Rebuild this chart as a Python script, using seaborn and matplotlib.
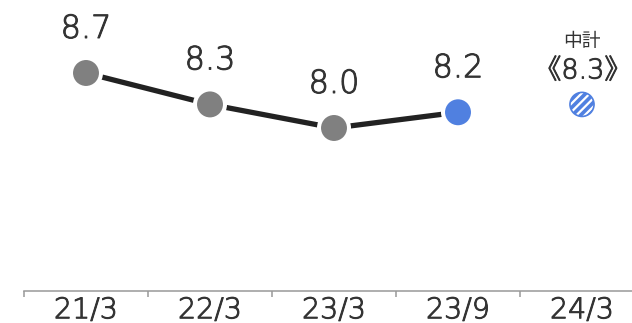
import matplotlib
matplotlib.use("Agg")
import matplotlib.pyplot as plt
import matplotlib.patheffects as pe
import seaborn as sns
import pandas as pd

# Data
periods = ["21/3", "22/3", "23/3", "23/9", "24/3"]
actual_values = [8.7, 8.3, 8.0, 8.2]
plan_value = 8.3
plan_label = "中計"

GRAY = "#808080"
BLUE = "#5080E0"
LINE = "#222222"
TEXT = "#333333"

sns.set_style("white")
plt.rcParams["font.family"] = ["DejaVu Sans", "Noto Sans CJK JP"]
plt.rcParams["hatch.linewidth"] = 1.6

# light face, thickened slightly with a thin stroke of the same colour
thicken = [pe.withStroke(linewidth=0.7, foreground=TEXT)]

df = pd.DataFrame({"pos": range(len(actual_values)),
                   "value": actual_values,
                   "kind": ["past"] * (len(actual_values) - 1) + ["latest"]})

fig = plt.figure(figsize=(6.32, 3.23), dpi=100)
ax = fig.add_axes([24 / 632, 0.1, 620 / 632, 0.9])

# Connecting line
sns.lineplot(data=df, x="pos", y="value", color=LINE, linewidth=3.8, ax=ax,
             zorder=2, legend=False)
# Markers with a white ring so the line stops short of each dot
sns.scatterplot(data=df, x="pos", y="value", hue="kind",
                palette={"past": GRAY, "latest": BLUE}, s=466,
                edgecolor="white", linewidth=2.9, ax=ax, zorder=3, legend=False)

# Plan target: hatched dot
plan_pos = len(periods) - 1
ax.scatter([plan_pos], [plan_value], s=300, facecolor=BLUE, edgecolor="white",
           hatch="////", linewidth=0, zorder=3)
ax.scatter([plan_pos], [plan_value], s=300, facecolor="none", edgecolor=BLUE,
           linewidth=1.2, zorder=4)

# Value labels
for x, v in zip(df["pos"], df["value"]):
    ax.annotate(f"{v:.1f}", (x, v), xytext=(0, 35), textcoords="offset pixels",
                ha="center", va="baseline", fontsize=23, color=TEXT,
                fontweight="light", path_effects=thicken)
ax.annotate(f"《{plan_value:.1f}》", (plan_pos, plan_value), xytext=(1, 26),
            textcoords="offset pixels", ha="center", va="baseline",
            fontsize=19.5, color=TEXT, fontweight="light", path_effects=thicken)
ax.annotate(plan_label, (plan_pos, plan_value), xytext=(0, 57),
            textcoords="offset pixels", ha="center", va="baseline",
            fontsize=13.5, color=TEXT)

# Axes styling
ax.set_xlim(-0.5, len(periods) - 0.5)
ax.set_ylim(5.929, 9.629)
ax.set_xlabel("")
ax.set_ylabel("")
ax.set_yticks([])
for side in ("top", "left", "right"):
    ax.spines[side].set_visible(False)
ax.spines["bottom"].set_color("#999999")
ax.spines["bottom"].set_linewidth(1.1)

ax.set_xticks([i - 0.5 for i in range(len(periods) + 1)])
ax.set_xticklabels([])
ax.tick_params(axis="x", which="major", bottom=True, length=4.5, width=1.1,
               color="#999999", direction="out")
ax.set_xticks(range(len(periods)), minor=True)
ax.set_xticklabels(periods, minor=True, fontweight="light")
for lbl in ax.get_xticklabels(minor=True):
    lbl.set_path_effects(thicken)
ax.tick_params(axis="x", which="minor", bottom=True, length=0, pad=4.0,
               labelsize=20.5, labelcolor=TEXT)

fig.savefig("out.png", dpi=100)
